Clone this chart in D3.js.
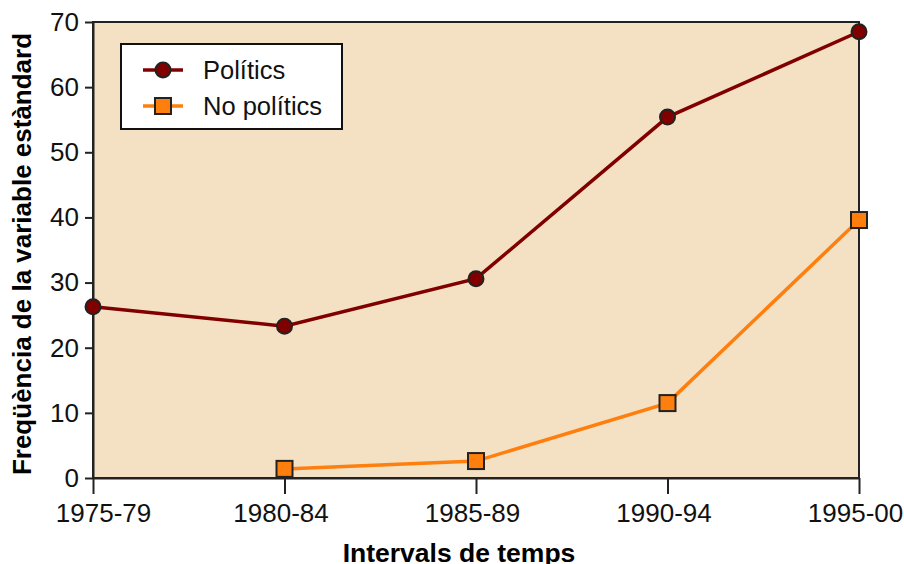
<!DOCTYPE html>
<html>
<head>
<meta charset="utf-8">
<script src="https://cdn.jsdelivr.net/npm/d3@7"></script>
<style>
  body { margin: 0; background: #fff; }
  svg { font-family: "Liberation Sans", Arial, sans-serif; }
  .axis text { font-size: 26px; fill: #111; }
  .axis path, .axis line { stroke: #222; stroke-width: 2; }
</style>
</head>
<body>
<svg id="chart" width="904" height="564"></svg>
<script>
  var categories = ['1975-79', '1980-84', '1985-89', '1990-94', '1995-00'];
  var politics = [26.3, 23.3, 30.6, 55.4, 68.5];
  var noPolitics = [null, 1.4, 2.6, 11.5, 39.6];
  var yTicks = [0, 10, 20, 30, 40, 50, 60, 70];

  var svg = d3.select('#chart'),
      margin = {top: 22, right: 45, bottom: 86, left: 93},
      width = +svg.attr('width') - margin.left - margin.right,
      height = +svg.attr('height') - margin.top - margin.bottom,
      g = svg.append('g').attr('transform', 'translate(' + margin.left + ',' + margin.top + ')');

  var x = d3.scalePoint().domain(categories).range([0, width]).padding(0);
  var y = d3.scaleLinear().domain([0, 70]).range([height, 0]);

  // plot background
  g.append('rect')
      .attr('width', width)
      .attr('height', height)
      .attr('fill', '#f4e1c4');

  // x axis
  var xAxis = g.append('g')
      .attr('class', 'axis')
      .attr('transform', 'translate(0,' + height + ')')
      .call(d3.axisBottom(x).tickSizeInner(16).tickSizeOuter(0).tickPadding(10));

  // labels sit a bit left of their ticks, the first one is kept inside the page
  xAxis.selectAll('.tick text')
      .attr('dx', function (d, i) { return i === 0 ? 10 : -4; });

  // y axis
  g.append('g')
      .attr('class', 'axis')
      .call(d3.axisLeft(y).tickValues(yTicks).tickSizeInner(8).tickSizeOuter(0).tickPadding(6));

  // frame
  g.append('rect')
      .attr('width', width)
      .attr('height', height)
      .attr('fill', 'none')
      .attr('stroke', '#222')
      .attr('stroke-width', 2);

  // axis titles
  svg.append('text')
      .attr('x', 459)
      .attr('y', 562)
      .attr('text-anchor', 'middle')
      .style('font-size', '26.5px')
      .style('font-weight', 'bold')
      .text('Intervals de temps');

  svg.append('text')
      .attr('transform', 'rotate(-90)')
      .attr('x', -254)
      .attr('y', 31)
      .attr('text-anchor', 'middle')
      .style('font-size', '26px')
      .style('font-weight', 'bold')
      .text('Freqüència de la variable estàndard');

  var series = [
    {name: 'Polítics', values: politics, color: '#800000', shape: 'circle'},
    {name: 'No polítics', values: noPolitics, color: '#ff7f0e', shape: 'square'}
  ];

  var line = d3.line()
      .defined(function (d) { return d.value != null; })
      .x(function (d) { return x(d.cat); })
      .y(function (d) { return y(d.value); });

  function drawMarker(sel, s) {
    if (s.shape === 'circle') {
      sel.append('circle').attr('r', 7.5);
    } else {
      sel.append('rect').attr('x', -8).attr('y', -8).attr('width', 16).attr('height', 16);
    }
    sel.selectAll('circle, rect')
        .attr('fill', s.color)
        .attr('stroke', '#222')
        .attr('stroke-width', 2);
  }

  series.forEach(function (s) {
    var pts = categories.map(function (c, i) { return {cat: c, value: s.values[i]}; });

    g.append('path')
        .attr('d', line(pts))
        .attr('fill', 'none')
        .attr('stroke', s.color)
        .attr('stroke-width', 3.5);

    g.selectAll('.dot-' + s.shape)
        .data(pts.filter(function (d) { return d.value != null; }))
      .enter().append('g')
        .attr('class', 'dot-' + s.shape)
        .attr('transform', function (d) { return 'translate(' + x(d.cat) + ',' + y(d.value) + ')'; })
        .each(function () { drawMarker(d3.select(this), s); });
  });

  // legend
  var legend = svg.append('g').attr('transform', 'translate(121,44)');
  legend.append('rect')
      .attr('width', 221)
      .attr('height', 85)
      .attr('fill', '#fff')
      .attr('stroke', '#111')
      .attr('stroke-width', 2);

  series.forEach(function (s, i) {
    var row = legend.append('g').attr('transform', 'translate(0,' + (26 + i * 36) + ')');
    row.append('line')
        .attr('x1', 22).attr('x2', 62)
        .attr('stroke', s.color)
        .attr('stroke-width', 3.5);
    drawMarker(row.append('g').attr('transform', 'translate(42,0)'), s);
    row.append('text')
        .attr('x', 82)
        .attr('dy', '0.35em')
        .style('font-size', '25.5px')
        .attr('fill', '#111')
        .text(s.name);
  });
</script>
</body>
</html>
